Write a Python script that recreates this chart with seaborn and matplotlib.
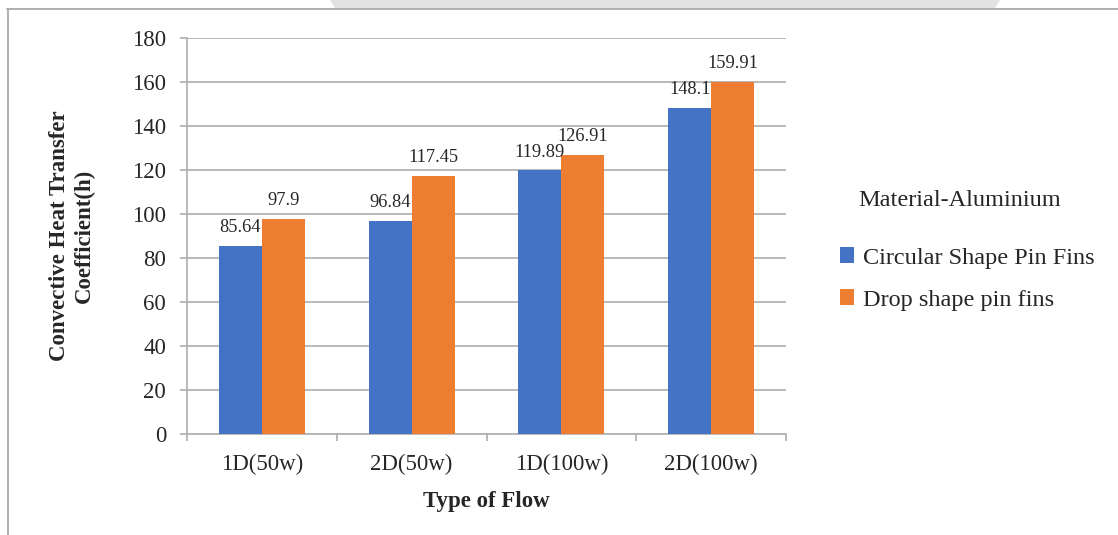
import matplotlib
matplotlib.use("Agg")
import matplotlib.pyplot as plt
from matplotlib.lines import Line2D
from matplotlib.patches import Polygon, Patch
from matplotlib.ticker import FixedLocator, MultipleLocator
import numpy as np
import pandas as pd
import seaborn as sns

# Data
flow_types = ["1D(50w)", "2D(50w)", "1D(100w)", "2D(100w)"]
circular_h = [85.64, 96.84, 119.89, 148.1]
drop_h = [97.9, 117.45, 126.91, 159.91]
series_names = ["Circular Shape Pin Fins", "Drop shape pin fins"]
legend_title = "Material-Aluminium"
colors = ["#4472C4", "#ED7D31"]

sns.set_style("white")
plt.rcParams["font.family"] = ["Liberation Serif", "DejaVu Serif"]

df = pd.DataFrame({
    "flow": flow_types * 2,
    "h": circular_h + drop_h,
    "fin": [series_names[0]] * len(flow_types) + [series_names[1]] * len(flow_types),
})

W, H = 1118, 535
fig = plt.figure(figsize=(W / 100, H / 100), dpi=100)
ax = fig.add_axes([187 / W, 1 - 434 / H, (786 - 187) / W, (434 - 38) / H])

# faint page decoration along the top edge
fig.patches.append(Polygon([(330 / W, 1), (1000 / W, 1), (995 / W, 1 - 8 / H), (335 / W, 1 - 8 / H)],
                           closed=True, transform=fig.transFigure, facecolor="#e2e2e2",
                           edgecolor="none", zorder=-5))

# outer chart frame (open at the right and bottom)
frame_c = "#a9a9a9"
fig.add_artist(Line2D([7 / W, 1], [1 - 8.5 / H, 1 - 8.5 / H], transform=fig.transFigure,
                      color=frame_c, lw=1.3))
fig.add_artist(Line2D([7.5 / W, 7.5 / W], [0, 1 - 8.5 / H], transform=fig.transFigure,
                      color=frame_c, lw=1.3))

sns.barplot(data=df, x="flow", y="h", hue="fin", palette=colors, saturation=1,
            width=0.575, ax=ax, legend=False, errorbar=None, linewidth=0, zorder=3)

for cont, vals in zip(ax.containers, [circular_h, drop_h]):
    ax.bar_label(cont, labels=[f"{v:g}" for v in vals], padding=7, fontsize=13.2, zorder=4)

grid_c = "#b3b3b3"
ax.set_ylim(0, 180)
ax.set_xlim(-0.5, len(flow_types) - 0.5)
ax.yaxis.set_major_locator(MultipleLocator(20))
ax.yaxis.grid(True, color=grid_c, lw=1.3, zorder=0)
ax.xaxis.grid(False)

for side in ["top", "right"]:
    ax.spines[side].set_visible(False)
for side in ["left", "bottom"]:
    ax.spines[side].set_color(grid_c)
    ax.spines[side].set_linewidth(1.3)

ax.tick_params(axis="y", which="major", left=True, length=5, width=1.3, color=grid_c,
               labelsize=16.5, pad=10, direction="out")
ax.tick_params(axis="x", which="major", length=0, labelsize=16.5, pad=14)
ax.xaxis.set_minor_locator(FixedLocator(np.arange(-0.5, len(flow_types), 1.0)))
ax.tick_params(axis="x", which="minor", bottom=True, length=5, width=1.3, color=grid_c,
               direction="out")

ax.set_xlabel("Type of Flow", fontsize=16.5, fontweight="bold", labelpad=12)
ax.set_ylabel("Convective Heat Transfer\nCoefficient(h)", fontsize=16.5, fontweight="bold")
ax.yaxis.label.set_va("center")
ax.yaxis.set_label_coords((72 - 187) / 599, 0.5)

handles = [Patch(facecolor=c, edgecolor="none") for c in colors]
fig.legend(handles, series_names, loc="center left",
           bbox_to_anchor=(818 / W, 1 - 279 / H), frameon=False, fontsize=17.5,
           handlelength=0.6, handleheight=0.6, handletextpad=0.35, labelspacing=0.85)
fig.text(960 / W, 1 - 200 / H, legend_title, fontsize=17.5, ha="center", va="center")

fig.savefig("out.png", dpi=100, facecolor="white")
